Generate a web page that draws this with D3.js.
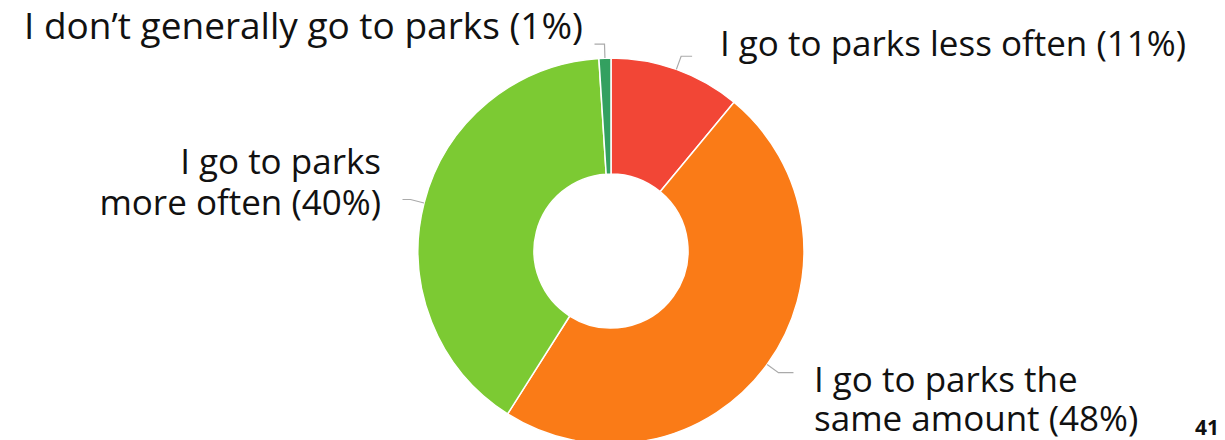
<!DOCTYPE html>
<html>
<head>
<meta charset="utf-8">
<script src="https://cdn.jsdelivr.net/npm/d3@7"></script>
<style>
  body { margin: 0; background: #fff; }
  text { font-family: "Open Sans", "Noto Sans", sans-serif; fill: #111; }
</style>
</head>
<body>
<div id="chart"></div>
<script>
// slices, clockwise from 12 o'clock
var categories = ["I go to parks less often", "I go to parks the same amount", "I go to parks more often", "I don\u2019t generally go to parks"];
var values = [11, 48, 40, 1];
var labelLines = [
  ["I go to parks less often (11%)"],
  ["I go to parks the", "same amount (48%)"],
  ["I go to parks", "more often (40%)"],
  ["I don\u2019t generally go to parks (1%)"]
];
var colors = ["#f24636", "#fa7b17", "#7cca33", "#33a060"];

var width = 1225, height = 440;
var cx = 611, cy = 251, outerR = 193, innerR = 77;

var svg = d3.select("#chart").append("svg")
  .attr("width", width).attr("height", height);

var g = svg.append("g").attr("transform", "translate(" + cx + "," + cy + ")");

var pie = d3.pie().sort(null).value(d => d);
var arcs = pie(values);

var arc = d3.arc().innerRadius(innerR).outerRadius(outerR);

g.selectAll("path.slice")
  .data(arcs)
  .enter().append("path")
  .attr("class", "slice")
  .attr("d", arc)
  .attr("fill", (d, i) => colors[i])
  .attr("stroke", "#fff")
  .attr("stroke-width", 1.5);

// leader lines: out from the edge, then sideways
var legLen = [11, 15, 8, 10];
function pt(a, r) { return [r * Math.sin(a), -r * Math.cos(a)]; }

arcs.forEach(function(d, i) {
  var a = (d.startAngle + d.endAngle) / 2;
  var p0 = pt(a, outerR), p1 = pt(a, outerR + 14);
  var dir = Math.sin(a) >= 0 && i !== 3 ? 1 : -1;
  var p2 = [p1[0] + dir * legLen[i], p1[1]];
  g.append("polyline")
    .attr("points", [p0, p1, p2].map(p => p.join(",")).join(" "))
    .attr("fill", "none")
    .attr("stroke", "#aaa")
    .attr("stroke-width", 1.2);
});

// labels
var labelPos = [
  {x: 720, y: 56, anchor: "start", lh: 0, size: 35},
  {x: 814, y: 392, anchor: "start", lh: 39, size: 35},
  {x: 381, y: 174, anchor: "end", lh: 41, size: 35},
  {x: 583, y: 39, anchor: "end", lh: 0, size: 37}
];

labelLines.forEach(function(lines, i) {
  var p = labelPos[i];
  var t = svg.append("text")
    .attr("x", p.x)
    .attr("y", p.y)
    .attr("text-anchor", p.anchor)
    .style("font-size", p.size + "px");
  lines.forEach(function(l, j) {
    t.append("tspan")
      .attr("x", p.x)
      .attr("dy", j === 0 ? 0 : p.lh)
      .text(l);
  });
});

// page number
svg.append("text")
  .attr("x", 1219).attr("y", 435)
  .attr("text-anchor", "end")
  .style("font-size", "21px")
  .style("font-weight", "bold")
  .text("41");
</script>
</body>
</html>
